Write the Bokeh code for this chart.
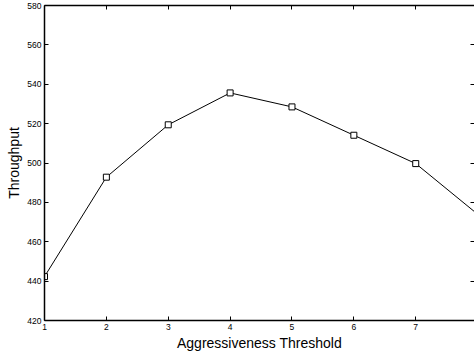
from bokeh.plotting import figure
from bokeh.models import (LinearAxis, FixedTicker, Range1d, CustomLabelingPolicy,
                          CustomJSTickFormatter)
from bokeh.embed import file_html
from bokeh.resources import INLINE

# Throughput measured for each aggressiveness threshold
thresholds = [1, 2, 3, 4, 5, 6, 7, 8]
throughput = [442.3, 492.8, 519.4, 535.6, 528.5, 514.1, 499.7, 474.0]

x_ticks = [1, 2, 3, 4, 5, 6, 7, 8]
y_ticks = [420, 440, 460, 480, 500, 520, 540, 560, 580]

FONT = "Liberation Sans"

p = figure(width=474, height=354, output_backend="svg", toolbar_location=None,
           x_range=Range1d(1, 7.95), y_range=Range1d(420, 580),
           x_axis_label="Aggressiveness Threshold", y_axis_label="Throughput",
           min_border_left=44, min_border_right=0, min_border_top=5,
           min_border_bottom=34)
p.outline_line_color = None
p.background_fill_color = "white"
p.border_fill_color = "white"
p.grid.visible = False

# tick-only mirror axes: every label index is dropped
no_labels = CustomLabelingPolicy(code="""
for (const i of indices) indices.unset(i)
return indices
""")
blank = CustomJSTickFormatter(code="return ''")

def style_axis(ax, labels=True):
    ax.axis_line_color = "black"
    ax.axis_line_width = 1.5
    ax.major_tick_in = 4
    ax.major_tick_out = 0
    ax.major_tick_line_color = "black"
    ax.minor_tick_line_color = None
    if labels:
        ax.major_label_text_font = FONT
        ax.major_label_text_font_size = "8.5px"
        ax.major_label_text_color = "black"
        ax.major_label_standoff = 3
        ax.axis_label_text_font = FONT
        ax.axis_label_text_font_size = "14px"
        ax.axis_label_text_font_style = "normal"
        ax.axis_label_text_color = "black"
        ax.axis_label_standoff = 2
    else:
        ax.formatter = blank
        ax.major_label_policy = no_labels
        ax.major_label_text_font_size = "1px"
        ax.major_label_standoff = 0

p.xaxis.ticker = FixedTicker(ticks=x_ticks)
p.yaxis.ticker = FixedTicker(ticks=y_ticks)
style_axis(p.xaxis[0])
style_axis(p.yaxis[0])

top = LinearAxis(ticker=FixedTicker(ticks=x_ticks))
style_axis(top, labels=False)
p.add_layout(top, "above")

right = LinearAxis(ticker=FixedTicker(ticks=y_ticks))
style_axis(right, labels=False)
right.axis_line_color = None
p.add_layout(right, "right")

p.line(thresholds, throughput, line_color="black", line_width=1)
p.scatter(thresholds, throughput, marker="square", size=6,
          fill_color="white", line_color="black", line_width=1)

open("out.html", "w").write(file_html(p, INLINE))
